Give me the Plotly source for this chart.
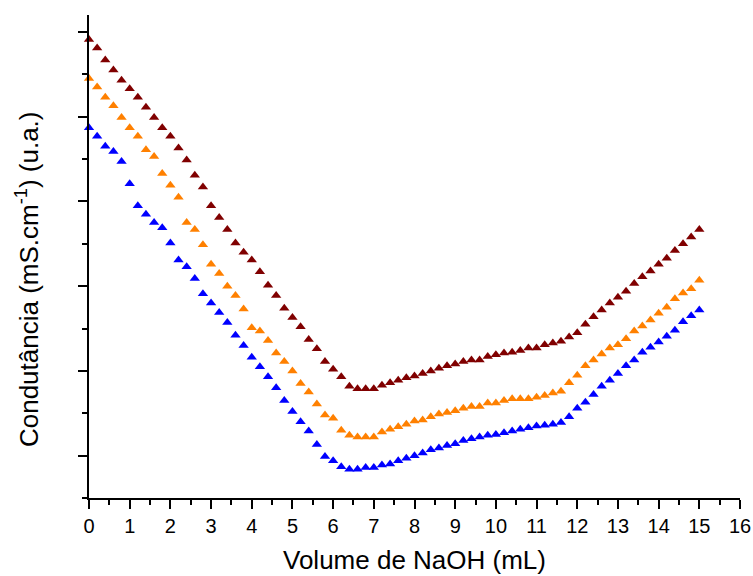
import plotly.graph_objects as go

# Volume of NaOH added (mL), 0 to 15 in 0.2 mL steps
volume = [round(0.2 * i, 1) for i in range(76)]

# Conductance readings (arbitrary units) for the three titrations
cond_maroon = [
    5.91, 5.81, 5.67, 5.55, 5.43, 5.33, 5.23, 5.11, 4.99, 4.87,
    4.77, 4.63, 4.49, 4.31, 4.17, 3.95, 3.81, 3.67, 3.51, 3.40,
    3.31, 3.17, 3.01, 2.89, 2.74, 2.63, 2.52, 2.37, 2.26, 2.11,
    2.02, 1.93, 1.82, 1.79, 1.79, 1.79, 1.83, 1.86, 1.89, 1.92,
    1.94, 1.97, 2.00, 2.03, 2.06, 2.08, 2.11, 2.13, 2.13, 2.17,
    2.19, 2.21, 2.22, 2.24, 2.27, 2.27, 2.31, 2.33, 2.35, 2.40,
    2.45, 2.55, 2.64, 2.72, 2.80, 2.87, 2.94, 3.03, 3.11, 3.18,
    3.26, 3.33, 3.42, 3.50, 3.58, 3.67,
]
cond_orange = [
    5.45, 5.35, 5.23, 5.13, 4.99, 4.87, 4.77, 4.61, 4.53, 4.33,
    4.19, 4.05, 3.75, 3.67, 3.49, 3.26, 3.15, 3.00, 2.89, 2.73,
    2.51, 2.47, 2.36, 2.21, 2.11, 2.00, 1.85, 1.75, 1.61, 1.48,
    1.44, 1.30, 1.24, 1.22, 1.22, 1.22, 1.28, 1.31, 1.34, 1.37,
    1.41, 1.42, 1.46, 1.49, 1.51, 1.53, 1.56, 1.58, 1.58, 1.62,
    1.62, 1.65, 1.67, 1.67, 1.67, 1.69, 1.71, 1.74, 1.76, 1.86,
    1.95, 2.06, 2.13, 2.20, 2.27, 2.31, 2.38, 2.47, 2.53, 2.60,
    2.68, 2.75, 2.85, 2.92, 2.97, 3.07,
]
cond_blue = [
    4.87, 4.77, 4.65, 4.59, 4.47, 4.21, 3.95, 3.85, 3.75, 3.69,
    3.51, 3.31, 3.23, 3.09, 2.91, 2.80, 2.69, 2.57, 2.42, 2.30,
    2.16, 2.05, 1.93, 1.80, 1.65, 1.52, 1.40, 1.29, 1.13, 0.99,
    0.94, 0.87, 0.84, 0.84, 0.86, 0.86, 0.89, 0.90, 0.94, 0.97,
    1.00, 1.03, 1.07, 1.09, 1.12, 1.14, 1.18, 1.20, 1.22, 1.24,
    1.25, 1.27, 1.29, 1.31, 1.33, 1.35, 1.36, 1.37, 1.39, 1.46,
    1.56, 1.63, 1.72, 1.82, 1.89, 1.97, 2.06, 2.13, 2.22, 2.28,
    2.34, 2.41, 2.48, 2.58, 2.65, 2.72,
]

series = [
    (cond_maroon, "#800000"),
    (cond_orange, "#FF8000"),
    (cond_blue, "#0000FF"),
]

fig = go.Figure()
for values, color in series:
    fig.add_trace(go.Scatter(
        x=volume, y=values, mode="markers",
        marker=dict(symbol="triangle-up", size=9, color=color, line=dict(width=0)),
        showlegend=False, cliponaxis=False,
    ))

font_family = "Liberation Sans, Arial, sans-serif"

fig.update_layout(
    width=753, height=576,
    margin=dict(l=89, r=13, t=15, b=78),
    paper_bgcolor="white", plot_bgcolor="white",
    font=dict(family=font_family, size=20, color="black"),
    xaxis=dict(
        range=[0, 16], tick0=0, dtick=1,
        showline=True, linecolor="black", linewidth=2,
        ticks="outside", ticklen=9, tickwidth=2, tickcolor="black",
        minor=dict(ticks="outside", ticklen=5, tickwidth=2, tickcolor="black",
                   dtick=0.5, tick0=0, showgrid=False),
        showgrid=False, zeroline=False, automargin=False,
        tickfont=dict(size=20),
    ),
    yaxis=dict(
        range=[0.5, 6.2], tick0=1, dtick=1,
        showline=True, linecolor="black", linewidth=2,
        ticks="outside", ticklen=9, tickwidth=2, tickcolor="black",
        minor=dict(ticks="outside", ticklen=5, tickwidth=2, tickcolor="black",
                   dtick=0.5, tick0=0.5, showgrid=False),
        showgrid=False, zeroline=False, showticklabels=False, automargin=False,
    ),
    annotations=[
        dict(
            text="Volume de NaOH (mL)", showarrow=False,
            xref="paper", yref="paper", x=0.5, y=-0.1284,
            xanchor="center", yanchor="middle",
            font=dict(size=26),
        ),
        dict(
            text="Condutância (mS.cm<sup>-1</sup>) (u.a.)",
            textangle=-90, showarrow=False,
            xref="paper", yref="paper", x=-0.0952, y=0.4534,
            xanchor="center", yanchor="middle",
            font=dict(size=26),
        ),
    ],
)

fig.write_html("out.html")
